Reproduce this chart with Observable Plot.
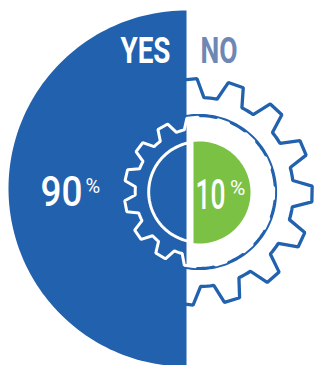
<!DOCTYPE html>
<html>
<head>
<meta charset="utf-8">
<script src="https://cdn.jsdelivr.net/npm/d3@7"></script>
<script src="https://cdn.jsdelivr.net/npm/@observablehq/plot@0.6"></script>
<style>
  html, body { margin: 0; padding: 0; background: #fff; }
  #chart svg { display: block; }
</style>
</head>
<body>
<div id="chart"></div>
<script>
// ---- data ----
const categories = ["YES", "NO"];
const shares = [90, 10];
const colors = ["#2161ad", "#7bc143"];
const headerColors = ["#ffffff", "#6e87b4"];

// ---- geometry helpers (decorative shapes) ----
const rad = d => d * Math.PI / 180;
function arcPts(cx, cy, r, a0, a1, n) {
  const pts = [];
  for (let i = 0; i <= n; i++) {
    const a = rad(a0 + (a1 - a0) * i / n);
    pts.push({x: cx + r * Math.cos(a), y: cy - r * Math.sin(a)});
  }
  return pts;
}
function gearPts(cx, cy, tipR, rootR, teeth, phase, baseHalf, tipHalf) {
  const pts = [];
  const step = 360 / teeth;
  const P = (r, a) => ({x: cx + r * Math.cos(rad(a)), y: cy - r * Math.sin(rad(a))});
  for (let k = 0; k < teeth; k++) {
    const a = phase + step * k;
    pts.push(P(rootR, a - baseHalf), P(tipR, a - tipHalf), P(tipR, a + tipHalf), P(rootR, a + baseHalf));
    const a0 = a + baseHalf, a1 = a + step - baseHalf;
    for (let i = 1; i < 4; i++) pts.push(P(rootR, a0 + (a1 - a0) * i / 4));
  }
  return pts;
}

const W = 319, H = 365;
const gcx = 198.5, gcy = 191.5;
const halfDisc = arcPts(186, 188, 178, 90, 270, 120);
const bigGear = gearPts(gcx, gcy, 113.3, 94.5, 15, -1, 8, 4);
const bigRing = arcPts(gcx, gcy, 76.5, 0, 360, 180);
const smallGear = gearPts(gcx, gcy, 74.8, 63.8, 15, -1, 8.3, 4.3);
const smallRing = arcPts(gcx, gcy, 50.3, 0, 360, 180);
const greenCut = Math.acos((193 - 199) / 51) * 180 / Math.PI;
const greenHalf = arcPts(199, 192, 51, -greenCut, greenCut, 90);

const textBase = {textAnchor: "start", lineAnchor: "bottom", fontFamily: "Roboto"};

const svg = Plot.plot({
  width: W, height: H, margin: 0,
  x: {domain: [0, W], axis: null},
  y: {domain: [H, 0], axis: null},
  style: {background: "#fff"},
  marks: [
    Plot.line(halfDisc, {x: "x", y: "y", curve: "linear-closed", fill: colors[0], stroke: "none"}),
    Plot.line(bigGear, {x: "x", y: "y", curve: "linear-closed", fill: "none", stroke: colors[0], strokeWidth: 3.3, strokeLinejoin: "miter"}),
    Plot.line(bigRing, {x: "x", y: "y", curve: "linear-closed", fill: "none", stroke: colors[0], strokeWidth: 3.2}),
    Plot.line(smallGear, {x: "x", y: "y", curve: "linear-closed", fill: "none", stroke: "#fff", strokeWidth: 3, strokeLinejoin: "miter"}),
    Plot.line(smallRing, {x: "x", y: "y", curve: "linear-closed", fill: "none", stroke: "#fff", strokeWidth: 3}),
    Plot.line(greenHalf, {x: "x", y: "y", curve: "linear-closed", fill: colors[1], stroke: "none"}),
    // headers
    Plot.text([categories[0]], {...textBase, x: 120, y: 62, text: d => d, fill: headerColors[0], fontSize: 37, fontWeight: 700}),
    Plot.text([categories[1]], {...textBase, x: 200, y: 62, text: d => d, fill: headerColors[1], fontSize: 37, fontWeight: 700}),
    // percentages
    Plot.text([shares[0]], {...textBase, x: 40, y: 205, text: d => String(d), fill: "#fff", fontSize: 42, fontWeight: 500}),
    Plot.text([shares[0]], {...textBase, x: 85, y: 192, text: () => "%", fill: "#fff", fontSize: 20, fontWeight: 400}),
    Plot.text([shares[1]], {...textBase, x: 195, y: 208, text: d => String(d), fill: "#fff", fontSize: 42, fontWeight: 500}),
    Plot.text([shares[1]], {...textBase, x: 229.5, y: 194, text: () => "%", fill: "#fff", fontSize: 21, fontWeight: 400})
  ]
});

document.getElementById("chart").appendChild(svg);

// condense the lettering horizontally like the reference's narrow typeface
const fitWidths = {"YES": 50, "NO": 37, "90": 42, "10": 30};
d3.select(svg).selectAll("text").each(function() {
  const t = this.textContent;
  const target = fitWidths[t];
  if (!target) return;
  const w0 = this.getComputedTextLength();
  if (!w0) return;
  const sx = target / w0;
  const x = +(this.getAttribute("x") || 0), y = +(this.getAttribute("y") || 0);
  const tr = this.getAttribute("transform") || "";
  this.setAttribute("x", 0);
  this.setAttribute("y", 0);
  this.setAttribute("transform", `${tr} translate(${x},${y}) scale(${sx},1)`);
});
</script>
</body>
</html>
